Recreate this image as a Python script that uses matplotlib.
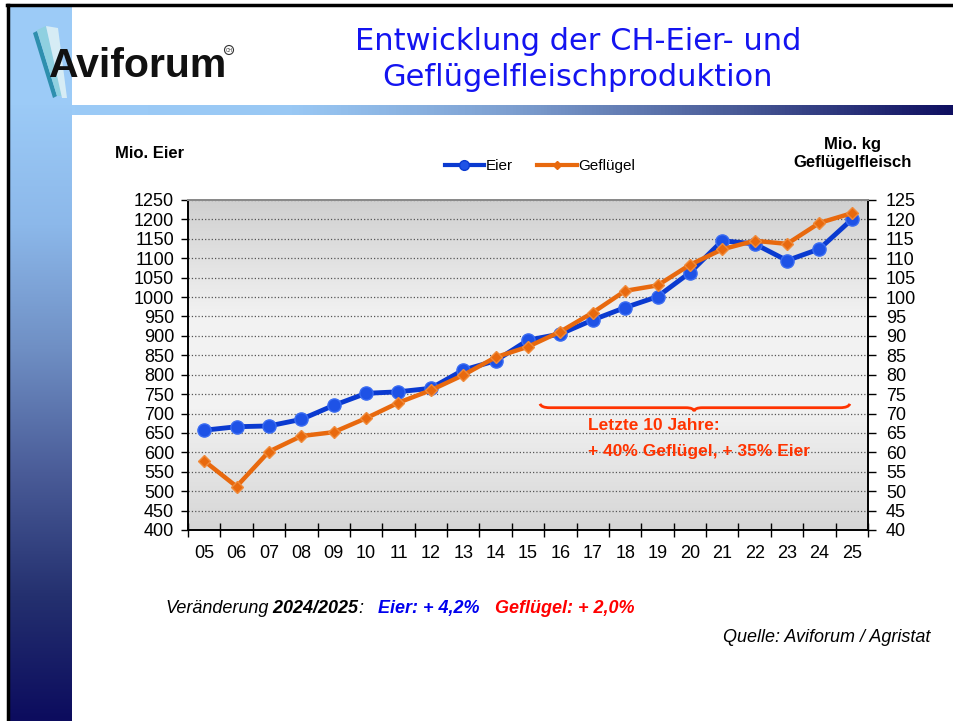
import numpy as np
import matplotlib.pyplot as plt
from matplotlib.colors import LinearSegmentedColormap
from matplotlib.path import Path
from matplotlib.patches import PathPatch, Polygon, Rectangle, Circle
from matplotlib.lines import Line2D

plt.rcParams['font.family'] = ['Liberation Sans', 'DejaVu Sans']

# ---- data ----
years = ['05', '06', '07', '08', '09', '10', '11', '12', '13', '14', '15',
         '16', '17', '18', '19', '20', '21', '22', '23', '24', '25']
eier = [657, 666, 668, 685, 721, 752, 756, 765, 812, 836, 889,
        905, 941, 973, 1001, 1063, 1145, 1137, 1094, 1124, 1200]
gefluegel = [57.8, 51.2, 60.2, 64.2, 65.2, 68.8, 72.8, 76.0, 79.9, 84.5, 87.2,
             91.1, 96.0, 101.6, 103.0, 108.3, 112.3, 114.5, 113.7, 119.1, 121.6]
left_ticks = np.arange(400, 1251, 50)
right_ticks = np.arange(40, 126, 5)

COL_EIER = '#0a3ad0'
COL_GEFL = '#e8690e'
COL_NOTE = '#ff3300'
NARROW = ['Liberation Sans Narrow', 'Liberation Sans', 'DejaVu Sans']

W, H = 954, 721
fig = plt.figure(figsize=(W / 100, H / 100), dpi=100)

# ---------- slide decoration (pixel coords) ----------
bg = fig.add_axes([0, 0, 1, 1])
bar_cm = LinearSegmentedColormap.from_list(
    'bar', ['#9ccbf7', '#8cb8ea', '#6f8fc4', '#4a5c98', '#24306f', '#0c0c5e'])
hbar_cm = LinearSegmentedColormap.from_list(
    'hbar', ['#9ccbf7', '#99c8f4', '#7d9fd0', '#4a5c98', '#0f0f60'])
bg.add_patch(Rectangle((10, 5), 62, 100, color='#9ccbf7', lw=0))
bg.imshow(np.linspace(0, 1, 256).reshape(-1, 1), cmap=bar_cm,
          extent=(10, 72, 721, 100), aspect='auto')
bg.imshow(np.linspace(0, 1, 256).reshape(1, -1), cmap=hbar_cm,
          extent=(72, 954, 115, 105), aspect='auto')
bg.plot([7, 954], [5, 5], color='black', lw=2.5)
bg.plot([8.5, 8.5], [5, 721], color='black', lw=2.5)
bg.add_patch(Rectangle((72, 7), 882, 98, color='white', lw=0))

# logo swoosh
bg.add_patch(Polygon([(33, 33), (37, 31), (57, 96), (53, 98)], color='#2e8fae', lw=0))
bg.add_patch(Polygon([(37, 30), (46, 26), (62, 96), (57, 96)], color='#8fd0e0', lw=0))
bg.add_patch(Polygon([(46, 26), (58, 28), (67, 98), (62, 98)], color='#d6ecf5', lw=0))
bg.text(49, 77, 'Aviforum', fontsize=29.5, fontweight='bold', color='#111111',
        va='baseline', ha='left')
bg.add_patch(Circle((229, 50), 4.5, fill=False, ec='#333333', lw=0.8))
bg.text(229, 50, 'CH', fontsize=3.5, ha='center', va='center', color='#333333')

bg.text(578, 42, 'Entwicklung der CH-Eier- und', fontsize=22, color='#1414f0',
        ha='center', va='center', family=['DejaVu Sans'])
bg.text(578, 78, 'Geflügelfleischproduktion', fontsize=22, color='#1414f0',
        ha='center', va='center', family=['DejaVu Sans'])
bg.set_xlim(0, W)
bg.set_ylim(H, 0)
bg.axis('off')

# ---------- chart ----------
ax = fig.add_axes([188 / W, 1 - 530 / H, 680 / W, 330 / H])
ax2 = ax.twinx()
x = np.arange(len(years))

plot_cm = LinearSegmentedColormap.from_list(
    'plotbg', [(0, '#d0d0d0'), (0.35, '#f2f2f2'), (0.62, '#f3f3f3'), (1, '#d6d6d6')])
ax.imshow(np.linspace(0, 1, 256).reshape(-1, 1), cmap=plot_cm,
          extent=(-0.5, len(years) - 0.5, 400, 1250), aspect='auto', zorder=0)

ax.plot(x, eier, color=COL_EIER, lw=3.5, marker='o', ms=9.5,
        mfc='#1e52e6', mec='#3a6cf2', mew=1, zorder=3)
ax2.plot(x, gefluegel, color=COL_GEFL, lw=3.2, marker='D', ms=6.5,
         mfc=COL_GEFL, mec='#f08a3a', zorder=3)

ax.set_xlim(-0.5, len(years) - 0.5)
ax.set_ylim(400, 1250)
ax2.set_ylim(40, 125)
ax.set_yticks(left_ticks)
ax2.set_yticks(right_ticks)
ax.yaxis.grid(True, ls=':', color='#555555', lw=0.9)
ax.set_axisbelow(True)

ax.set_xticks(np.arange(-0.5, len(years), 1))
ax.set_xticklabels([''] * (len(years) + 1))
ax.set_xticks(x, minor=True)
ax.set_xticklabels(years, minor=True)
ax.tick_params(axis='x', which='major', direction='inout', length=10, width=1)
ax.tick_params(axis='x', which='minor', length=0, pad=11, labelsize=13)
ax.tick_params(axis='y', direction='out', length=5, width=1, pad=5, labelsize=13)
ax2.tick_params(axis='y', direction='out', length=6, width=1, pad=7, labelsize=13)

for a in (ax, ax2):
    for s in a.spines.values():
        s.set_linewidth(1.4)
    a.spines['top'].set_color('#8a8a8a')
ax2.spines['left'].set_visible(False)
ax2.spines['bottom'].set_visible(False)
ax.spines['right'].set_visible(False)

# brace + note
x0, xm, x1, yb = 10.37, 15.13, 19.94, 71.5
verts = [(x0, yb + 1.0), (x0 + 0.04, yb), (x0 + 0.3, yb),
         (xm - 0.25, yb),
         (xm - 0.02, yb), (xm, yb - 0.9),
         (xm + 0.02, yb), (xm + 0.25, yb),
         (x1 - 0.3, yb),
         (x1 - 0.04, yb), (x1, yb + 1.0)]
codes = [Path.MOVETO, Path.CURVE3, Path.CURVE3, Path.LINETO, Path.CURVE3, Path.CURVE3,
         Path.CURVE3, Path.CURVE3, Path.LINETO, Path.CURVE3, Path.CURVE3]
ax2.add_patch(PathPatch(Path(verts, codes), fill=False, ec=COL_NOTE, lw=2, zorder=4))
ax2.text(11.85, 67.0, 'Letzte 10 Jahre:', color=COL_NOTE, fontsize=12.5,
         fontweight='bold', va='center', ha='left', zorder=4)
ax2.text(11.85, 60.3, '+ 40% Geflügel, + 35% Eier', color=COL_NOTE, fontsize=12.5,
         fontweight='bold', va='center', ha='left', zorder=4)

# axis titles and legend
fig.text(150 / W, 1 - 153 / H, 'Mio. Eier', fontsize=12, fontweight='bold',
         ha='center', va='center')
fig.text(912 / W, 1 - 154 / H, 'Mio. kg\nGeflügelfleisch', fontsize=12,
         fontweight='bold', ha='right', va='center', multialignment='center',
         linespacing=1.25)
handles = [Line2D([], [], color=COL_EIER, lw=3, marker='o', ms=7, mfc='#1e52e6'),
           Line2D([], [], color=COL_GEFL, lw=3, marker='D', ms=4.5)]
fig.legend(handles, ['Eier', 'Geflügel'], loc='center',
           bbox_to_anchor=(540 / W, 1 - 166 / H), ncol=2, frameon=False,
           fontsize=11, handlelength=2.6, handletextpad=0.1, columnspacing=1.6)

# footer line with mixed styles
t = fig.text(165 / W, 1 - 617 / H, 'Veränderung', fontsize=13, style='italic',
             family=NARROW, va='bottom', ha='left')
parts = [(' 2024/2025', 'black', 'bold'), (':', 'black', 'normal'),
         ('   Eier: + 4,2%', '#0000ee', 'bold'), ('   Geflügel: + 2,0%', '#ff0000', 'bold')]
for txt, col, wt in parts:
    t = bg.annotate(txt, xy=(1, 0), xycoords=t, fontsize=13, style='italic',
                    family=NARROW, color=col, fontweight=wt, va='bottom', ha='left')
fig.text(930 / W, 1 - 646 / H, 'Quelle: Aviforum / Agristat', fontsize=13,
         style='italic', family=NARROW, ha='right', va='bottom')

fig.savefig('out.png', dpi=100)
